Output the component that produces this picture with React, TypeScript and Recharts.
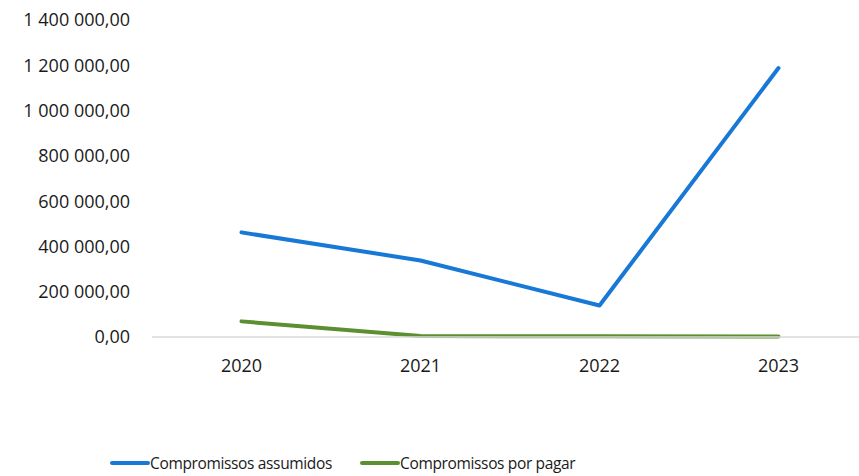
import React from 'react';
import { LineChart, Line, XAxis, YAxis, Legend } from 'recharts';

const years = ['2020', '2021', '2022', '2023'];
const assumidos = [462000, 338000, 139000, 1188000];
const porPagar = [69000, 4000, 3000, 2000];
const yTicks = [0, 200000, 400000, 600000, 800000, 1000000, 1200000, 1400000];

const data = years.map((y, i) => ({ year: y, assumidos: assumidos[i], porPagar: porPagar[i] }));

const fmt = (v: number) => {
  const s = Math.round(v).toString().replace(/\B(?=(\d{3})+(?!\d))/g, ' ');
  return `${s},00`;
};

const FONT = '"Open Sans", sans-serif';

const LegendContent = (props: any) => {
  const payload = props.payload || [];
  return (
    <div style={{ height: 26, display: 'flex', alignItems: 'center', paddingLeft: 110, fontFamily: FONT, fontSize: 15.5, letterSpacing: -0.35, color: '#1a1a1a' }}>
      {payload.map((p: any, i: number) => (
        <div key={i} style={{ display: 'flex', alignItems: 'center', marginRight: 28 }}>
          <div style={{ width: 40, height: 4, background: p.color, borderRadius: 2 }} />
          <span>{p.value}</span>
        </div>
      ))}
    </div>
  );
};

export default function App() {
  return (
    <div style={{ position: 'fixed', left: 0, top: 0, width: 859, height: 476, overflow: 'hidden', background: '#fff' }}>
      <LineChart width={868} height={476} data={data} margin={{ top: 20, right: 0, bottom: 0, left: 0 }}>
        <XAxis
          dataKey="year"
          height={113}
          padding={{ left: 89.5, right: 89.5 }}
          axisLine={{ stroke: '#d9d9d9', strokeWidth: 1.5 }}
          tickLine={false}
          tickSize={0}
          tickMargin={22}
          tick={{ fontFamily: FONT, fontSize: 18, fill: '#1a1a1a' }}
        />
        <YAxis
          width={152}
          domain={[0, 1400000]}
          ticks={yTicks}
          tickFormatter={fmt}
          axisLine={false}
          tickLine={false}
          tickSize={0}
          tickMargin={22}
          interval={0}
          tick={{ fontFamily: FONT, fontSize: 18, fill: '#1a1a1a' }}
        />
        <Legend verticalAlign="bottom" align="left" height={26} content={<LegendContent />} />
        <Line
          type="linear"
          dataKey="assumidos"
          name="Compromissos assumidos"
          stroke="#1878d6"
          strokeWidth={4}
          strokeLinecap="round"
          strokeLinejoin="round"
          dot={false}
          activeDot={false}
          isAnimationActive={false}
        />
        <Line
          type="linear"
          dataKey="porPagar"
          name="Compromissos por pagar"
          stroke="#5b8f30"
          strokeWidth={4}
          strokeLinecap="round"
          strokeLinejoin="round"
          dot={false}
          activeDot={false}
          isAnimationActive={false}
        />
      </LineChart>
    </div>
  );
}
